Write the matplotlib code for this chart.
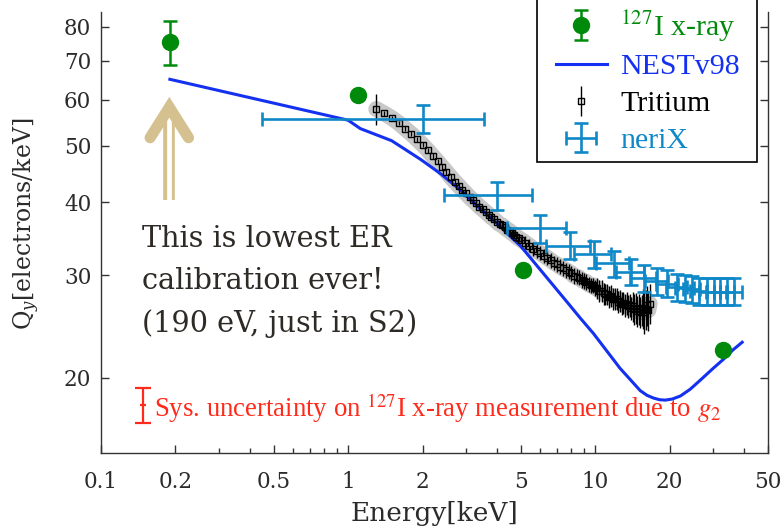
import matplotlib.pyplot as plt
import numpy as np
from matplotlib.patches import Rectangle
from matplotlib.ticker import FixedLocator, FuncFormatter, LogLocator, NullLocator

plt.rcParams['font.family'] = 'DejaVu Serif'
plt.rcParams['mathtext.fontset'] = 'dejavuserif'

### Data

# 127I x-ray measurements (only the 190 eV point carries an error bar)
xray_E = [0.19, 1.1, 5.1, 33.0]
xray_Qy = [75.2, 61.1, 30.6, 22.3]
xray_err_lo = [6.5, 0.0, 0.0, 0.0]
xray_err_hi = [6.7, 0.0, 0.0, 0.0]

# NESTv98 model
nest_E = [0.19, 1.0, 1.12, 1.5, 1.96, 2.36, 2.84, 3.4, 4.0, 5.0, 6.2, 7.56, 8.7, 9.84,
          11.2, 12.6, 14.0, 15.2, 16.2, 17.2, 18.2, 19.2, 20.5, 22.1, 24.2, 26.6,
          30.0, 33.0, 36.0, 39.3]
nest_Qy = [65.0, 55.3, 53.5, 51.0, 47.4, 44.8, 42.0, 39.1, 36.8, 33.6, 30.1, 27.2, 25.3, 23.8,
           22.15, 20.75, 19.75, 19.0, 18.65, 18.45, 18.33, 18.3, 18.38, 18.6, 19.1, 19.8,
           20.75, 21.5, 22.3, 23.0]

# Tritium
trit_E = [1.3, 1.4, 1.5, 1.6, 1.7, 1.8, 1.9, 2.0, 2.1, 2.2, 2.3, 2.4, 2.5, 2.6, 2.7, 2.8, 2.9,
          3.0, 3.1, 3.2, 3.3, 3.4, 3.5, 3.6, 3.7, 3.8, 3.9, 4.0, 4.1, 4.2, 4.3, 4.4, 4.5, 4.6,
          4.7, 4.8, 4.9, 5.0, 5.2, 5.4, 5.6, 5.8, 6.0, 6.2, 6.4, 6.6, 6.8, 7.0, 7.2, 7.4, 7.6,
          7.8, 8.0, 8.2, 8.4, 8.6, 8.8, 9.0, 9.2, 9.4, 9.6, 9.8, 10.0, 10.2, 10.4, 10.6, 10.8,
          11.0, 11.2, 11.4, 11.6, 11.8, 12.0, 12.2, 12.4, 12.6, 12.8, 13.0, 13.2, 13.4, 13.6,
          13.8, 14.0, 14.2, 14.4, 14.6, 14.8, 15.0, 15.2, 15.4, 15.6, 15.8, 16.0, 16.2, 16.4,
          16.6]
trit_Qy = [57.8, 56.8, 55.8, 54.7, 53.5, 52.4, 51.3, 50.2, 49.1, 48.0, 47.0, 46.0, 45.1, 44.2,
           43.4, 42.7, 42.0, 41.4, 40.8, 40.3, 39.8, 39.3, 38.9, 38.5, 38.1, 37.7, 37.4, 37.0,
           36.7, 36.5, 36.2, 35.9, 35.7, 35.4, 35.2, 34.9, 34.7, 34.5, 34.1, 33.7, 33.3, 33.0,
           32.7, 32.4, 32.1, 31.8, 31.5, 31.3, 31.0, 30.8, 30.6, 30.4, 30.2, 29.9, 29.8, 29.7,
           29.4, 29.3, 29.2, 28.9, 28.8, 28.8, 28.5, 28.5, 28.2, 28.2, 27.9, 27.8, 27.8, 27.5,
           27.6, 27.3, 27.3, 27.3, 27.0, 27.1, 26.8, 26.9, 26.6, 26.8, 26.5, 26.6, 26.3, 26.5,
           26.2, 26.3, 26.0, 26.2, 25.9, 26.1, 26.3, 25.9, 26.2, 26.6, 26.1, 26.8]
trit_err = [3.5] + [0.5] * 37 + [0.9] * 25 + [1.2] * 20 + [1.6] * 7 + [2.1] * 6

# neriX
nerix_E = [2.0, 4.0, 6.0, 7.9, 9.9, 11.9, 13.9, 15.7, 17.8, 19.6, 21.4, 23.1, 24.6, 26.2,
           28.3, 30.1, 32.1, 34.1, 36.5]
nerix_Qy = [55.6, 41.1, 36.1, 33.7, 32.6, 31.4, 30.4, 29.6, 29.3, 29.0, 28.6, 28.5, 28.4,
            28.2, 28.1, 28.1, 28.1, 28.1, 28.1]
nerix_Eerr = [1.55, 1.55, 1.6, 1.6, 1.7, 1.8, 1.8, 1.9, 1.9, 2.0, 2.0, 2.0, 2.0, 2.0, 2.0,
              2.0, 2.0, 2.2, 2.6]
nerix_Qerr = [3.1, 2.3, 2.0, 1.8, 1.7, 1.65, 1.6, 1.6, 1.55, 1.55, 1.5, 1.5, 1.5, 1.5, 1.5,
              1.5, 1.5, 1.5, 1.5]

# g2 systematic bar drawn beside the note
sys_E = [0.148]
sys_Qy = [17.95]
sys_err_lo = [1.25]
sys_err_hi = [1.25]

x_ticks = [0.1, 0.2, 0.5, 1, 2, 5, 10, 20, 50]
y_ticks = [20, 30, 40, 50, 60, 70, 80]

green = '#008a0c'
nest_blue = '#1430f0'
nerix_blue = '#0f88c8'
tan = '#d4c18f'

### Figure
fig = plt.figure(figsize=(7.82, 5.30), dpi=100)
ax = fig.add_axes([101 / 782, 77 / 530, 667 / 782, 441 / 530])
ax.set_xscale('log')
ax.set_yscale('log')
ax.set_xlim(0.1, 50)
ax.set_ylim(14.85, 84.8)

# tritium uncertainty band
ax.plot(trit_E, trit_Qy, color='#c8c8c8', lw=11.5, solid_capstyle='round', zorder=1)

nest_line, = ax.plot(nest_E, nest_Qy, color=nest_blue, lw=2.2, zorder=2, label='NESTv98')

trit = ax.errorbar(trit_E, trit_Qy, yerr=trit_err, fmt='s', ms=4.2, mfc='none', mec='black',
                   mew=1.0, ecolor='black', elinewidth=1.0, capsize=0, zorder=3, label='Tritium')

nerix = ax.errorbar(nerix_E, nerix_Qy, xerr=nerix_Eerr, yerr=nerix_Qerr, fmt='none',
                    ecolor=nerix_blue, elinewidth=1.9, capsize=5, capthick=1.9, zorder=4,
                    label='neriX')

xray = ax.errorbar(xray_E, xray_Qy, yerr=[xray_err_lo, xray_err_hi], fmt='o', ms=11.5,
                   color=green, ecolor=green, elinewidth=1.8, capsize=5, capthick=1.8,
                   zorder=6, label='$^{127}$I x-ray')

ax.errorbar(sys_E, sys_Qy, yerr=[sys_err_lo, sys_err_hi], fmt='_', ms=5, mew=1.6,
            color='#ff2a1a', ecolor='#ff2a1a', elinewidth=1.6, capsize=5.5, capthick=1.6,
            zorder=6)

# double-shafted arrow pointing at the 190 eV point
arrow_x = 0.189
ax.plot([arrow_x, arrow_x], [40.3, 56.2], color=tan, lw=8.4, solid_capstyle='butt', zorder=5)
ax.plot([arrow_x, arrow_x], [40.0, 56.0], color='white', lw=3.4, solid_capstyle='butt', zorder=5)
ax.plot([0.158, arrow_x, 0.226], [51.6, 58.2, 51.6], color=tan, lw=8, solid_capstyle='round',
        solid_joinstyle='miter', zorder=5)

ax.text(0.0615, 0.388, 'This is lowest ER\ncalibration ever!\n(190 eV, just in S2)',
        transform=ax.transAxes, fontsize=20.7, color='#2e2b26', va='center', ha='left',
        linespacing=1.63)

ax.text(0.0795, 0.102, 'Sys. uncertainty on $^{127}$I x-ray measurement due to $g_2$',
        transform=ax.transAxes, fontsize=19.3, color='#ff2a1a', va='center', ha='left',
        family='Liberation Serif', math_fontfamily='stix')

### Axes styling
ax.spines['top'].set_visible(False)
for s in ['left', 'bottom', 'right']:
    ax.spines[s].set_linewidth(1.0)
    ax.spines[s].set_color('#333333')

ax.xaxis.set_major_locator(FixedLocator(x_ticks))
ax.xaxis.set_minor_locator(LogLocator(base=10, subs=np.arange(2, 10)))
ax.xaxis.set_major_formatter(FuncFormatter(lambda v, p: f'{v:g}'))
ax.xaxis.set_minor_formatter(FuncFormatter(lambda v, p: ''))
ax.yaxis.set_major_locator(FixedLocator(y_ticks))
ax.yaxis.set_minor_locator(NullLocator())
ax.yaxis.set_major_formatter(FuncFormatter(lambda v, p: f'{v:g}'))

ax.tick_params(which='both', direction='in', top=False, right=True, colors='#333333',
               labelcolor='#2b2b2b')
ax.tick_params(which='major', length=6, width=1.0, labelsize=15.5)
ax.tick_params(which='minor', length=3.5, width=1.0)
ax.tick_params(axis='x', which='major', pad=13)
ax.tick_params(axis='y', which='major', pad=7)

ax.set_xlabel('Energy[keV]', fontsize=19, color='#2b2b2b', labelpad=6)
ax.set_ylabel('Q$_y$[electrons/keV]', fontsize=17, color='#2b2b2b')
ax.yaxis.set_label_coords(-0.088, 0.52)

# legend entries without their own frame; the box is drawn separately and runs off the top
leg = ax.legend(handles=[xray, nest_line, trit, nerix], loc='lower left',
                bbox_to_anchor=(556 / 782, 376 / 530), bbox_transform=fig.transFigure,
                prop={'family': 'Liberation Serif', 'size': 21.5}, frameon=False,
                borderpad=0, labelspacing=0.33, handlelength=1.7, handletextpad=0.45,
                borderaxespad=0)
for t, c in zip(leg.get_texts(), [green, nest_blue, 'black', nerix_blue]):
    t.set_color(c)
    t.set_math_fontfamily('stix')
leg.set_zorder(8)
ax.add_patch(Rectangle((537 / 782, 368 / 530), 220 / 782, 200 / 530,
                       transform=fig.transFigure, fill=True, facecolor='white',
                       edgecolor='black', lw=1.2, zorder=7, clip_on=False))

plt.savefig('out.png', dpi=100)
